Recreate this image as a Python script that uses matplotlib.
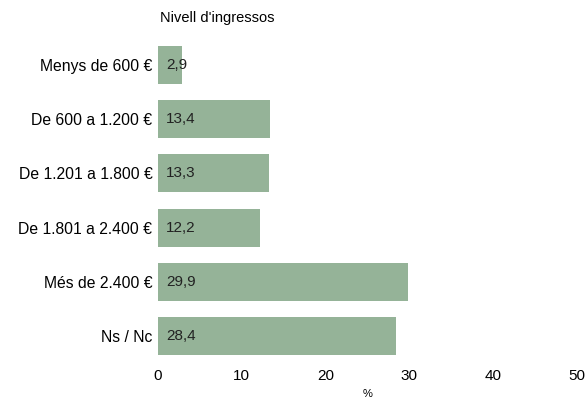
import matplotlib
matplotlib.use("Agg")
import matplotlib.pyplot as plt

categories = ["Menys de 600 €", "De 600 a 1.200 €", "De 1.201 a 1.800 €",
              "De 1.801 a 2.400 €", "Més de 2.400 €", "Ns / Nc"]
values = [2.9, 13.4, 13.3, 12.2, 29.9, 28.4]
labels = ["2,9", "13,4", "13,3", "12,2", "29,9", "28,4"]

plt.rcParams['font.family'] = ['Liberation Sans', 'DejaVu Sans']

fig = plt.figure(figsize=(5.88, 4.01), dpi=100)
ax = fig.add_axes([0.2687, 0.0948, 0.7123, 0.8105])

pos = list(range(len(categories)))
ax.barh(pos, values, height=0.7, color="#95b398")
for p, v, t in zip(pos, values, labels):
    ax.annotate(t, (0, p), xytext=(6, 0), textcoords="offset points",
                va="center", ha="left", fontsize=11, color="#222222")

ax.set_ylim(5.5, -0.5)
ax.set_xlim(0, 50)
ax.set_yticks(pos)
ax.set_yticklabels(categories, fontsize=11.3)
ax.set_xticks([0, 10, 20, 30, 40, 50])
ax.tick_params(axis="x", labelsize=11, length=0, pad=4)
ax.tick_params(axis="y", length=0, pad=4)
for s in ax.spines.values():
    s.set_visible(False)
ax.set_xlabel("%", fontsize=8, labelpad=5)
fig.text(0.272, 0.955, "Nivell d'ingressos", fontsize=10.5, ha="left", va="center")

fig.savefig("out.png", dpi=100)
